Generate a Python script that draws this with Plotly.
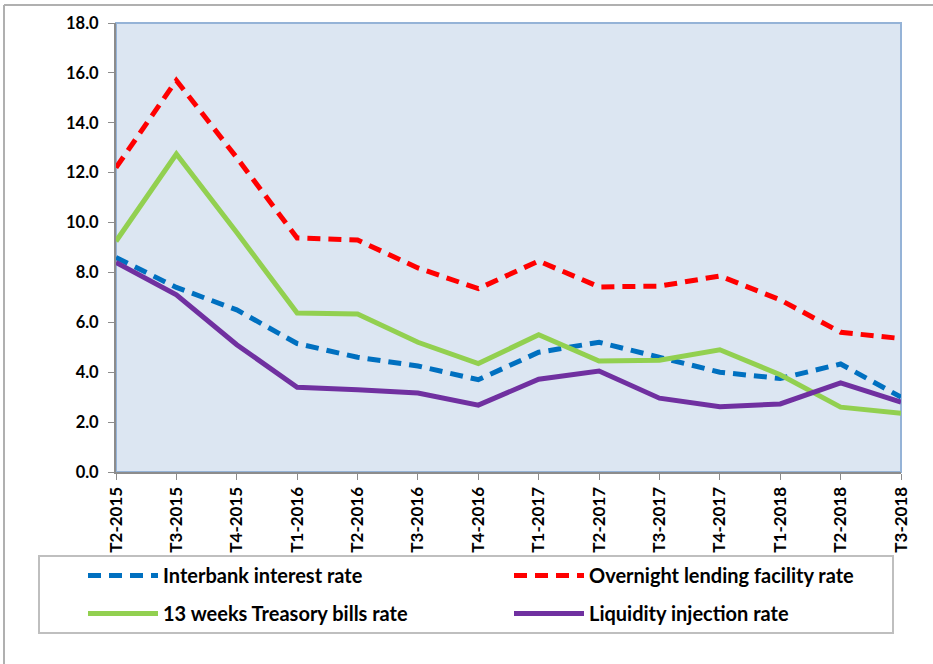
import plotly.graph_objects as go

quarters = ["T2-2015", "T3-2015", "T4-2015", "T1-2016", "T2-2016", "T3-2016", "T4-2016",
            "T1-2017", "T2-2017", "T3-2017", "T4-2017", "T1-2018", "T2-2018", "T3-2018"]
interbank = [8.6, 7.4, 6.5, 5.15, 4.6, 4.25, 3.7, 4.8, 5.2, 4.6, 4.0, 3.75, 4.33, 3.0]
overnight = [12.2, 15.7, 12.6, 9.38, 9.3, 8.18, 7.35, 8.46, 7.42, 7.45, 7.86, 6.9, 5.6, 5.35]
tbills = [9.25, 12.75, 9.6, 6.37, 6.33, 5.2, 4.35, 5.5, 4.45, 4.48, 4.9, 3.9, 2.6, 2.35]
liquidity = [8.4, 7.1, 5.1, 3.4, 3.3, 3.17, 2.68, 3.72, 4.05, 2.96, 2.62, 2.73, 3.57, 2.8]

W, H = 933, 664
L, R, T, B = 116, 901, 23, 472

def px(x):
    return (x - L) / (R - L)

def py(y):
    return (B - y) / (B - T)

FONT = "Lato"
fig = go.Figure()
fig.add_trace(go.Scatter(x=quarters, y=interbank, mode="lines", name="Interbank interest rate",
                         line=dict(color="#0070C0", width=5, dash="13px,8px"),
                         legend="legend", legendgroup="a"))
fig.add_trace(go.Scatter(x=quarters, y=tbills, mode="lines", name="13 weeks Treasory bills rate",
                         line=dict(color="#92D050", width=5),
                         legend="legend", legendgroup="b"))
fig.add_trace(go.Scatter(x=quarters, y=overnight, mode="lines", name="Overnight lending facility rate",
                         line=dict(color="#FF0000", width=5, dash="13px,8px"),
                         legend="legend2", legendgroup="c"))
fig.add_trace(go.Scatter(x=quarters, y=liquidity, mode="lines", name="Liquidity injection rate",
                         line=dict(color="#7030A0", width=5),
                         legend="legend2", legendgroup="d"))

legfont = dict(family=FONT, size=20, color="#000000", weight="bold")
common_leg = dict(orientation="v", xanchor="left", yanchor="top", bgcolor="rgba(0,0,0,0)",
                  borderwidth=0, font=legfont, itemwidth=70, tracegroupgap=9,
                  traceorder="grouped")

fig.update_layout(
    width=W, height=H,
    margin=dict(l=L, r=W - R, t=T, b=H - B, pad=0),
    paper_bgcolor="white",
    plot_bgcolor="#DCE6F2",
    showlegend=True,
    legend=dict(x=px(83), y=py(556), **common_leg),
    legend2=dict(x=px(509), y=py(556), **common_leg),
    xaxis=dict(
        type="category", range=[0, 13], showgrid=False, zeroline=False,
        showline=True, linecolor="#8C8C8C", linewidth=2,
        ticks="outside", ticklen=6, tickcolor="#8C8C8C", tickwidth=1,
        tickangle=-90, tickfont=dict(family=FONT, size=17, color="#000000", weight="bold"),
    ),
    yaxis=dict(
        range=[0, 18], dtick=2, tick0=0, tickformat=".1f", showgrid=False, zeroline=False,
        showline=True, linecolor="#8C8C8C", linewidth=2,
        ticks="outside", ticklen=6, tickcolor="#8C8C8C", tickwidth=1,
        ticklabelstandoff=6,
        tickfont=dict(family=FONT, size=16.5, color="#000000", weight="bold"),
    ),
    shapes=[
        dict(type="rect", xref="paper", yref="paper", x0=0, x1=1, y0=0, y1=1,
             line=dict(color="#95B3D7", width=2), layer="below"),
        dict(type="rect", xref="paper", yref="paper", x0=px(39), x1=px(893), y0=py(556), y1=py(633),
             line=dict(color="#BFBFBF", width=2), fillcolor="rgba(0,0,0,0)", layer="below"),
        dict(type="line", xref="paper", yref="paper", x0=px(4), x1=px(933), y0=py(5), y1=py(5),
             line=dict(color="#B0B0B0", width=2)),
        dict(type="line", xref="paper", yref="paper", x0=px(4), x1=px(4), y0=py(5), y1=py(664),
             line=dict(color="#B0B0B0", width=2)),
    ],
)

fig.write_html("out.html")
